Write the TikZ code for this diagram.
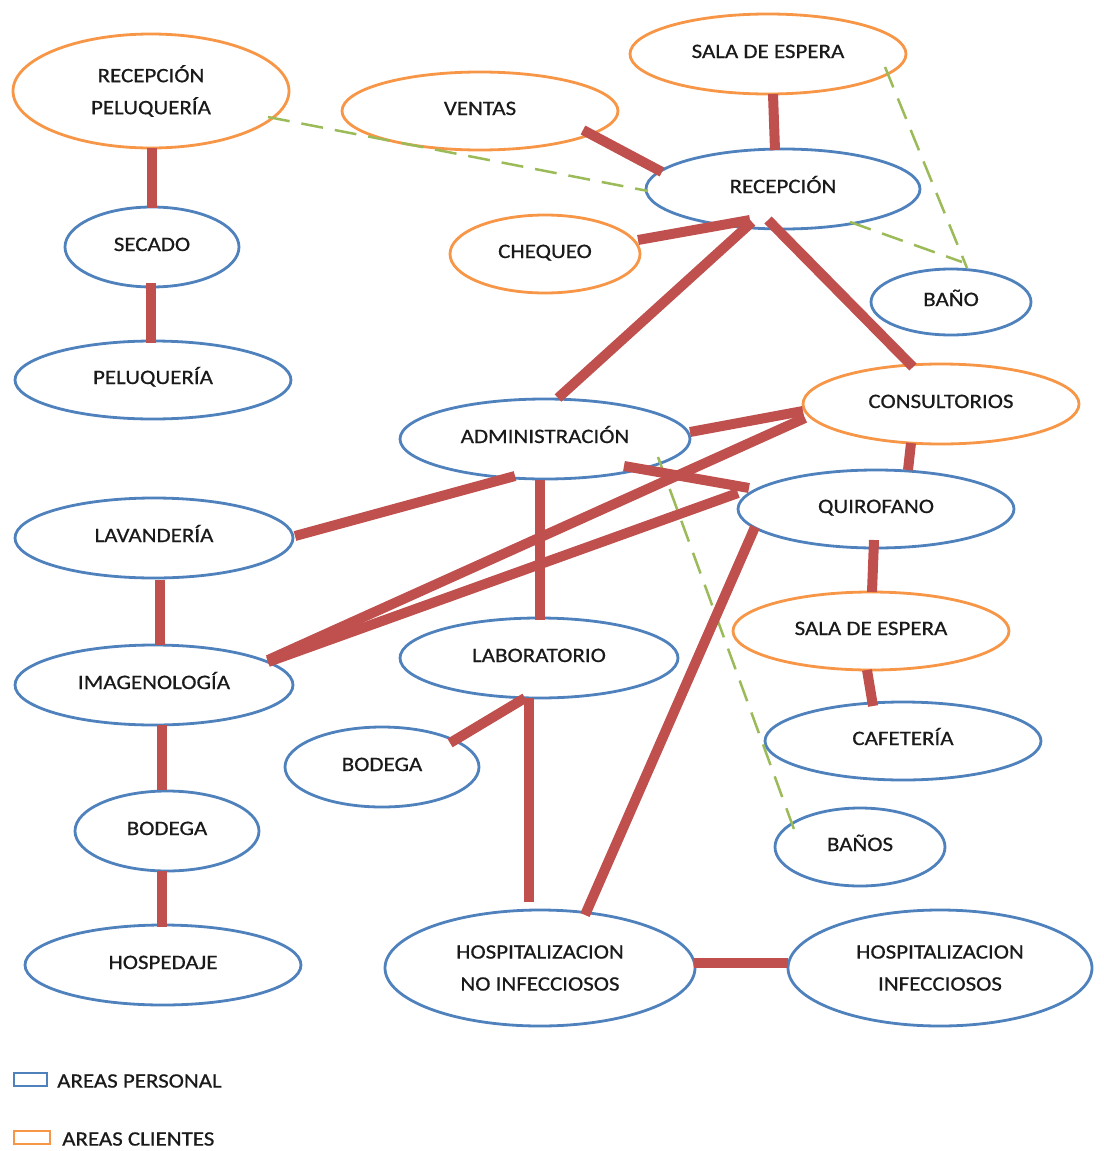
\documentclass[tikz,border=0pt]{standalone}
\usepackage{fontspec}
\usetikzlibrary{shapes.geometric,calc}
\newfontfamily\lbl{Carlito}[FakeStretch=1.12,FakeBold=0.6]
\definecolor{bluec}{HTML}{4F81BD}
\definecolor{orangec}{HTML}{F79646}
\definecolor{redc}{HTML}{C0504D}
\definecolor{greenc}{HTML}{9BBB59}
\definecolor{txt}{HTML}{1A1A1A}
\tikzset{
  area/.style={ellipse, line width=2.8pt, fill=white, inner sep=0pt, outer sep=0pt,
    font=\lbl\fontsize{20.5pt}{24pt}\selectfont, text=txt, text height=13pt, text depth=5pt},
  staff/.style={area, draw=bluec},
  client/.style={area, draw=orangec},
  twoline/.style={align=center, text height=, text depth=,
    font=\lbl\fontsize{20.5pt}{32pt}\selectfont},
  link/.style={draw=redc, line width=10pt},
  walk/.style={draw=greenc, line width=2.5pt, dash pattern=on 22pt off 12pt},
  legtext/.style={font=\lbl\fontsize{20.5pt}{24pt}\selectfont, text=txt, inner sep=0pt, anchor=west},
}
\begin{document}
\begin{tikzpicture}[x=1pt,y=-1pt]
\useasboundingbox (0,0) rectangle (1103,1151);
% nodes
\node[client, twoline, minimum width=276, minimum height=114] (rp) at (151,91) {RECEPCIÓN\\PELUQUERÍA};
\node[staff, minimum width=174, minimum height=80] (sec) at (152,247) {SECADO};
\node[staff, minimum width=276, minimum height=78] (pel) at (153,380) {PELUQUERÍA};
\node[client, minimum width=276, minimum height=78] (ven) at (480,111) {VENTAS};
\node[client, minimum width=276, minimum height=80] (se1) at (768,54) {SALA DE ESPERA};
\node[staff, minimum width=274, minimum height=80] (rec) at (783,189) {RECEPCIÓN};
\node[client, minimum width=190, minimum height=78] (che) at (545,254) {CHEQUEO};
\node[staff, minimum width=160, minimum height=66] (ban) at (951,302) {BAÑO};
\node[client, minimum width=276, minimum height=80] (con) at (941,404) {CONSULTORIOS};
\node[staff, minimum width=290, minimum height=80] (adm) at (545,439) {ADMINISTRACIÓN};
\node[staff, minimum width=276, minimum height=78] (qui) at (876,509) {QUIROFANO};
\node[staff, minimum width=278, minimum height=80] (lav) at (154,538) {LAVANDERÍA};
\node[staff, minimum width=278, minimum height=80] (ima) at (154,685) {IMAGENOLOGÍA};
\node[staff, minimum width=278, minimum height=80] (lab) at (539,658) {LABORATORIO};
\node[client, minimum width=276, minimum height=78] (se2) at (871,631) {SALA DE ESPERA};
\node[staff, minimum width=276, minimum height=78] (caf) at (903,741) {CAFETERÍA};
\node[staff, minimum width=194, minimum height=80] (bod2) at (382,767) {BODEGA};
\node[staff, minimum width=184, minimum height=80] (bod1) at (167,831) {BODEGA};
\node[staff, minimum width=170, minimum height=78] (bns) at (860,847) {BAÑOS};
\node[staff, minimum width=276, minimum height=80] (hos) at (163,965) {HOSPEDAJE};
\node[staff, twoline, minimum width=310, minimum height=116] (hni) at (540,968) {HOSPITALIZACION\\NO INFECCIOSOS};
\node[staff, twoline, minimum width=304, minimum height=116] (hin) at (940,968) {HOSPITALIZACION\\INFECCIOSOS};
% green dashed connectors
\draw[walk] ($(rp)+(117,26)$) -- ($(rec)+(-135,2)$);
\draw[walk] ($(se1)+(117,13)$) -- ($(ban)+(16,-34)$);
\draw[walk] ($(rec)+(67,33)$) -- ($(ban)+(11,-40)$);
\draw[walk] ($(adm)+(113,18)$) -- ($(bns)+(-65,-15)$);
% red connectors
\draw[link] ($(rp)+(1,57)$) -- ($(sec)+(0,-39)$);
\draw[link] ($(sec)+(-1,36)$) -- ($(pel)+(-2,-37)$);
\draw[link] ($(ven)+(103,19)$) -- ($(rec)+(-121,-17)$);
\draw[link] ($(se1)+(5,40)$) -- ($(rec)+(-8,-39)$);
\draw[link] ($(che)+(93,-14)$) -- ($(rec)+(-33,31)$);
\draw[link] ($(rec)+(-31,33)$) -- ($(adm)+(13,-41)$);
\draw[link] ($(rec)+(-15,31)$) -- ($(con)+(-28,-37)$);
\draw[link] ($(adm)+(145,-7)$) -- ($(con)+(-138,7)$);
\draw[link] ($(con)+(-136,14)$) -- ($(ima)+(114,-25)$);
\draw[link] ($(qui)+(-138,-16)$) -- ($(ima)+(114,-23)$);
\draw[link] ($(adm)+(-30,37)$) -- ($(lav)+(141,-2)$);
\draw[link] ($(adm)+(79,27)$) -- ($(qui)+(-127,-21)$);
\draw[link] ($(con)+(-30,39)$) -- ($(qui)+(32,-39)$);
\draw[link] ($(adm)+(-5,41)$) -- ($(lab)+(1,-38)$);
\draw[link] ($(qui)+(-2,31)$) -- ($(se2)+(1,-39)$);
\draw[link] ($(se2)+(-4,39)$) -- ($(caf)+(-30,-35)$);
\draw[link] ($(lav)+(6,42)$) -- ($(ima)+(6,-40)$);
\draw[link] ($(ima)+(8,40)$) -- ($(bod1)+(-5,-41)$);
\draw[link] ($(bod1)+(-5,40)$) -- ($(hos)+(-1,-38)$);
\draw[link] ($(lab)+(-14,40)$) -- ($(bod2)+(68,-24)$);
\draw[link] ($(lab)+(-10,40)$) -- ($(hni)+(-11,-66)$);
\draw[link] ($(qui)+(-121,18)$) -- ($(hni)+(45,-53)$);
\draw[link] ($(hni)+(154,-5)$) -- ($(hin)+(-152,-5)$);
% legend
\node[rectangle, draw=bluec, line width=2.8pt, inner sep=0pt, minimum width=33, minimum height=13] (lgp) at (30.5,1079.5) {};
\node[legtext] (lgpt) at (57,1081) {AREAS PERSONAL};
\node[rectangle, draw=orangec, line width=2.8pt, inner sep=0pt, minimum width=36, minimum height=13] (lgc) at (32,1137.5) {};
\node[legtext] (lgct) at (62,1139) {AREAS CLIENTES};
\end{tikzpicture}
\end{document}
